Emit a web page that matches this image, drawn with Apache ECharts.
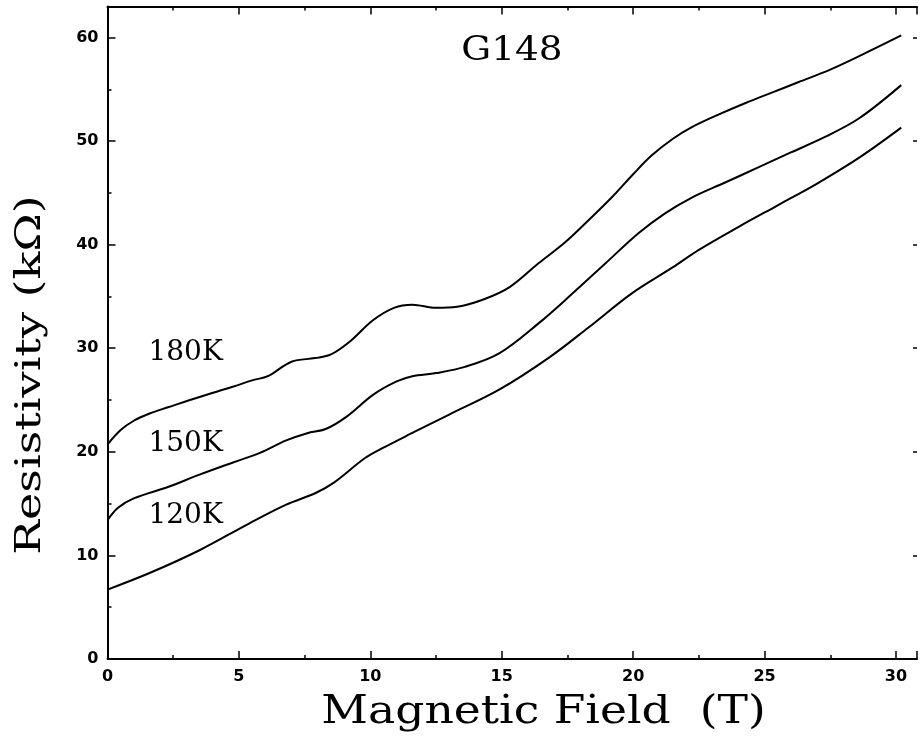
<!DOCTYPE html>
<html>
<head>
<meta charset="utf-8">
<script src="https://cdn.jsdelivr.net/npm/echarts@6/dist/echarts.min.js"></script>
<style>
html,body{margin:0;padding:0;background:#fff;}
#chart{width:920px;height:736px;}
</style>
</head>
<body>
<div id="chart"></div>
<script>
// ---- data ----
const field180 = [0, 0.5, 1.0, 1.6, 2.3, 3.5, 4.8, 5.5, 6.1, 7.0, 7.9, 8.5, 9.2, 10.1, 10.9, 11.6, 12.5, 13.3, 14.3, 15.3, 16.4, 17.4, 18.4, 19.2, 20.0, 20.7, 21.5, 22.2, 23.2, 24.3, 25.3, 26.3, 27.5, 28.6, 30.2];
const res180   = [20.7, 22.1, 23.0, 23.7, 24.3, 25.3, 26.3, 26.9, 27.3, 28.7, 29.05, 29.4, 30.6, 32.7, 33.9, 34.2, 33.9, 34.0, 34.7, 35.9, 38.2, 40.2, 42.6, 44.6, 46.8, 48.6, 50.2, 51.3, 52.5, 53.7, 54.7, 55.7, 56.9, 58.2, 60.2];

const field150 = [0, 0.4, 1.0, 2.3, 3.5, 4.8, 5.8, 6.8, 7.6, 8.3, 9.1, 10.1, 11.0, 11.6, 12.5, 13.6, 14.9, 16.4, 17.7, 18.95, 20.2, 21.2, 22.2, 23.5, 24.8, 26.0, 27.3, 28.6, 30.2];
const res150   = [13.4, 14.6, 15.5, 16.6, 17.8, 19.0, 19.9, 21.1, 21.8, 22.2, 23.4, 25.5, 26.8, 27.3, 27.6, 28.2, 29.5, 32.4, 35.3, 38.2, 41.1, 43.0, 44.5, 46.0, 47.5, 48.9, 50.4, 52.2, 55.4];

const field120 = [0, 1.6, 3.5, 5.4, 6.8, 7.9, 8.6, 9.8, 10.5, 11.5, 13.0, 14.9, 16.8, 18.3, 19.95, 21.5, 22.5, 24.0, 25.5, 27.0, 28.6, 30.2];
const res120   = [6.7, 8.3, 10.5, 13.1, 14.9, 16.0, 17.0, 19.4, 20.4, 21.7, 23.6, 26.0, 29.1, 32.0, 35.3, 37.8, 39.5, 41.7, 43.8, 45.9, 48.4, 51.3];

const curveNames = ['180K', '150K', '120K'];
const labelAnchors = [[1.54, 29.6], [1.54, 20.75], [1.54, 13.8]];

const xMajorTicks = 5, xMinorTicks = 2.5;
const yMajorTicks = 10, yMinorTicks = 5;
const xRange = [0, 30.8], yRange = [0, 63];

const chartTitle = 'G148';
const xTitle = 'Magnetic Field  (T)';
const yTitle = 'Resistivity (kΩ)';

// ---- chart ----
const chart = echarts.init(document.getElementById('chart'), null, {renderer: 'canvas'});

function pairs(xs, ys) { return xs.map((x, i) => [x, ys[i]]); }

const labelFont = {fontFamily: 'DejaVu Sans', fontWeight: 'bold', fontSize: 16, color: '#000'};

function axisLineCfg(show) {
  return {show: show, onZero: false, lineStyle: {color: '#000', width: 2}};
}
function xAx(position, interval, tickLen, withLabels, withLine) {
  return {
    type: 'value', position: position, min: xRange[0], max: xRange[1], interval: interval,
    axisLine: axisLineCfg(withLine),
    axisTick: {show: true, inside: true, length: tickLen, lineStyle: {color: '#000', width: 1.5}},
    axisLabel: withLabels ? Object.assign({show: true, margin: 10,
      formatter: v => (v % xMajorTicks === 0 ? String(v) : '')}, labelFont) : {show: false},
    splitLine: {show: false}
  };
}
function yAx(position, interval, tickLen, withLabels, withLine) {
  return {
    type: 'value', position: position, min: yRange[0], max: yRange[1], interval: interval,
    axisLine: axisLineCfg(withLine),
    axisTick: {show: true, inside: true, length: tickLen, lineStyle: {color: '#000', width: 1.5}},
    axisLabel: withLabels ? Object.assign({show: true, margin: 9,
      formatter: v => (v % yMajorTicks === 0 ? String(v) : '')}, labelFont) : {show: false},
    splitLine: {show: false}
  };
}

const datasets = [pairs(field180, res180), pairs(field150, res150), pairs(field120, res120)];

chart.setOption({
  animation: false,
  backgroundColor: '#fff',
  grid: {left: 107.5, right: 0, top: 6.4, bottom: 77, containLabel: false},
  xAxis: [
    xAx('bottom', xMajorTicks, 8, true, true),
    xAx('bottom', xMinorTicks, 4, false, false),
    xAx('top', xMajorTicks, 8, false, true),
    xAx('top', xMinorTicks, 4, false, false)
  ],
  yAxis: [
    yAx('left', yMajorTicks, 8, true, true),
    yAx('left', yMinorTicks, 4, false, false),
    yAx('right', yMajorTicks, 4, false, false)
  ],
  series: datasets.map((d, i) => ({
    name: curveNames[i],
    type: 'line',
    xAxisIndex: 0, yAxisIndex: 0,
    data: d,
    smooth: 0.35,
    symbol: 'none',
    lineStyle: {color: '#000', width: 2},
    markPoint: {
      symbol: 'circle', symbolSize: 1,
      itemStyle: {color: 'rgba(0,0,0,0)'},
      label: {show: true, position: 'right', distance: 0, formatter: curveNames[i],
        fontFamily: 'DejaVu Serif', fontSize: 28, color: '#000'},
      data: [{coord: labelAnchors[i]}]
    }
  })),
  graphic: [
    {type: 'text', x: 512, y: 51, scaleX: 1.1,
     style: {text: chartTitle, font: '34px "DejaVu Serif"', fill: '#000', textAlign: 'center', textVerticalAlign: 'middle'}},
    {type: 'text', x: 543.5, y: 713, scaleX: 1.14,
     style: {text: xTitle, font: '40px "DejaVu Serif"', fill: '#000', textAlign: 'center', textVerticalAlign: 'middle'}},
    {type: 'text', x: 31, y: 375, rotation: Math.PI / 2, scaleX: 1.28,
     style: {text: yTitle, font: '36px "DejaVu Serif"', fill: '#000', textAlign: 'center', textVerticalAlign: 'middle'}}
  ]
});
</script>
</body>
</html>
